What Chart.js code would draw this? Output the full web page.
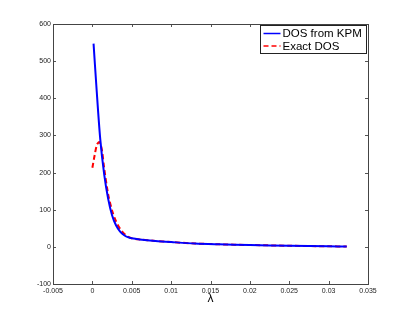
<!DOCTYPE html>
<html>
<head>
<meta charset="utf-8">
<script src="https://cdn.jsdelivr.net/npm/chart.js@4/dist/chart.umd.min.js"></script>
<style>
  html, body { margin: 0; padding: 0; background: #fff; }
  #wrap { width: 407px; height: 320px; }
</style>
</head>
<body>
<div id="wrap"><canvas id="dosChart" width="407" height="320"></canvas></div>
<script>
// values
var kpmX = [0.00015, 0.0005, 0.001, 0.0015, 0.002, 0.0025, 0.003, 0.0035, 0.004, 0.0045, 0.005, 0.006, 0.008, 0.01, 0.013, 0.016, 0.02, 0.025, 0.03, 0.0323];
var kpmY = [547, 435, 290, 195, 130, 85, 58, 42, 32, 26, 23, 20, 16, 13, 9, 7, 5, 3, 1.5, 1];
var exactX = [0, 0.0003, 0.0006, 0.0009, 0.0012, 0.0015, 0.002, 0.0025, 0.003, 0.0035, 0.004, 0.0045, 0.005, 0.006, 0.008, 0.01, 0.013, 0.016, 0.02, 0.025, 0.03, 0.0323];
var exactY = [213, 248, 276, 282, 262, 212, 142, 98, 69, 49, 36, 28, 23, 20, 16, 13, 9, 7, 5, 3, 1.5, 1];
var xTicks = [-0.005, 0, 0.005, 0.01, 0.015, 0.02, 0.025, 0.03, 0.035];
var yTicks = [-100, 0, 100, 200, 300, 400, 500, 600];
var seriesNames = ["DOS from KPM", "Exact DOS"];

function toPoints(xs, ys) {
  return xs.map(function (x, i) { return { x: x, y: ys[i] }; });
}

var FONT = "'Liberation Sans', Arial, Helvetica, sans-serif";

// matlab style box, inward ticks and legend
var matlabBox = {
  id: 'matlabBox',
  afterDraw: function (chart) {
    var ctx = chart.ctx;
    var a = chart.chartArea;
    var xs = chart.scales.x, ys = chart.scales.y;
    ctx.save();
    ctx.strokeStyle = '#555';
    ctx.lineWidth = 1;
    ctx.beginPath();
    xTicks.forEach(function (v) {
      var px = Math.round(xs.getPixelForValue(v)) + 0.5;
      ctx.moveTo(px, a.bottom); ctx.lineTo(px, a.bottom - 3);
      ctx.moveTo(px, a.top); ctx.lineTo(px, a.top + 3);
    });
    yTicks.forEach(function (v) {
      var py = Math.round(ys.getPixelForValue(v)) + 0.5;
      ctx.moveTo(a.left, py); ctx.lineTo(a.left + 3, py);
      ctx.moveTo(a.right, py); ctx.lineTo(a.right - 3, py);
    });
    ctx.stroke();
    ctx.strokeStyle = '#444';
    ctx.strokeRect(Math.round(a.left) + 0.5, Math.round(a.top) + 0.5,
                   Math.round(a.right - a.left), Math.round(a.bottom - a.top));

    // legend
    var lx = 260.5, ly = 25.5, lw = 106, lh = 28;
    ctx.fillStyle = '#fff';
    ctx.fillRect(lx, ly, lw, lh);
    ctx.strokeStyle = '#222';
    ctx.strokeRect(lx, ly, lw, lh);
    ctx.font = '11.5px ' + FONT;
    ctx.textBaseline = 'middle';
    chart.data.datasets.forEach(function (ds, i) {
      var yy = ly + 8 + i * 12.5;
      ctx.strokeStyle = ds.borderColor;
      ctx.lineWidth = 1.5;
      ctx.setLineDash(ds.borderDash || []);
      ctx.beginPath();
      ctx.moveTo(lx + 3, yy); ctx.lineTo(lx + 20, yy);
      ctx.stroke();
      ctx.setLineDash([]);
      ctx.fillStyle = '#000';
      ctx.fillText(ds.label, lx + 22, yy + 0.5);
    });
    ctx.restore();
  }
};

var ctx = document.getElementById("dosChart");
var myChart = new Chart(ctx, {
  type: 'scatter',
  data: {
    datasets: [{
      label: seriesNames[0],
      data: toPoints(kpmX, kpmY),
      showLine: true,
      borderColor: '#0000ff',
      borderWidth: 2,
      pointRadius: 0,
      tension: 0.3
    }, {
      label: seriesNames[1],
      data: toPoints(exactX, exactY),
      showLine: true,
      borderColor: '#ff0000',
      borderDash: [5, 3],
      borderWidth: 2,
      pointRadius: 0,
      tension: 0.3
    }]
  },
  options: {
    responsive: false,
    animation: false,
    layout: { padding: { top: 24, right: 39, left: 0, bottom: 0 } },
    plugins: { legend: { display: false }, tooltip: { enabled: false } },
    scales: {
      x: {
        type: 'linear',
        min: -0.005, max: 0.035,
        afterBuildTicks: function (s) { s.ticks = xTicks.map(function (v) { return { value: v }; }); },
        afterFit: function (s) { s.height = 36; },
        grid: { display: false, drawTicks: false },
        border: { display: false },
        ticks: {
          color: '#222', padding: 3, maxRotation: 0,
          font: { size: 7, family: FONT },
          callback: function (v) { return String(parseFloat(v.toFixed(4))); }
        },
        title: {
          display: true, text: 'λ', color: '#000',
          font: { size: 12, family: FONT },
          padding: { top: 0, bottom: 14 }
        }
      },
      y: {
        min: -100, max: 600,
        afterBuildTicks: function (s) { s.ticks = yTicks.map(function (v) { return { value: v }; }); },
        afterFit: function (s) { s.width = 53; },
        grid: { display: false, drawTicks: false },
        border: { display: false },
        ticks: {
          color: '#222', padding: 2,
          font: { size: 7, family: FONT }
        }
      }
    }
  },
  plugins: [matlabBox]
});
</script>
</body>
</html>
